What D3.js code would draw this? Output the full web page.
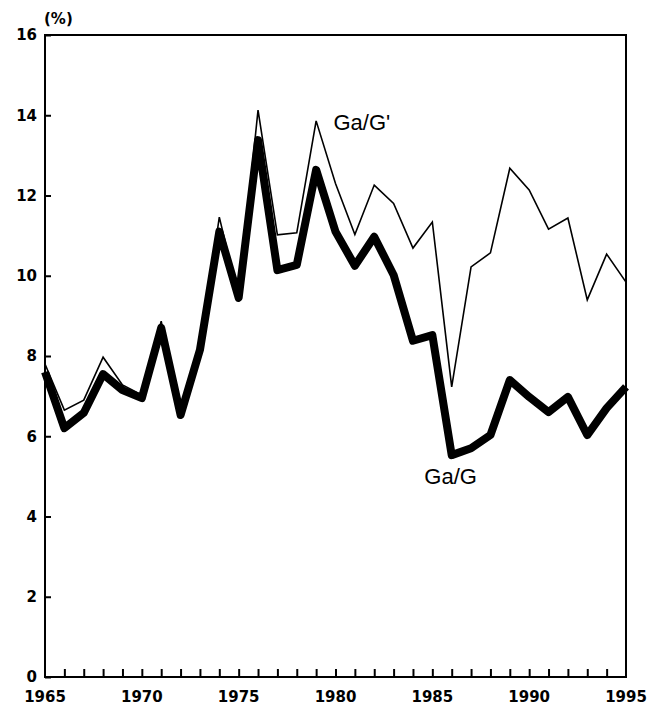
<!DOCTYPE html>
<html>
<head>
<meta charset="utf-8">
<script src="https://cdn.jsdelivr.net/npm/d3@7"></script>
<style>
  body { margin: 0; background: #fff; }
  text { font-family: "Liberation Sans", Arial, sans-serif; }
  .num { font-family: "DejaVu Sans", sans-serif; font-weight: bold; }
</style>
</head>
<body>
<div id="chart"></div>
<script>
// chart size and plot box
const width = 650;
const height = 708;
const margin = {left: 45, right: 24, top: 35, bottom: 31};

// data
const years = d3.range(1965, 1996);
const gaG = [7.6, 6.2, 6.58, 7.55, 7.15, 6.95, 8.7, 6.53, 8.15, 11.1,
             9.45, 13.38, 10.14, 10.27, 12.64, 11.1, 10.25, 10.97, 10.02, 8.38,
             8.52, 5.53, 5.7, 6.03, 7.4, 6.98, 6.6, 6.98, 6.03, 6.7, 7.23];
const gaGprime = [7.8, 6.65, 6.9, 7.97, 7.28, 7.03, 8.87, 6.5, 8.15, 11.46,
                  9.45, 14.13, 11.02, 11.07, 13.86, 12.3, 11.03, 12.26, 11.8, 10.69,
                  11.34, 7.23, 10.22, 10.57, 12.68, 12.14, 11.16, 11.44, 9.4, 10.54, 9.84];
const yTicks = [0, 2, 4, 6, 8, 10, 12, 14, 16];
const xLabels = [1965, 1970, 1975, 1980, 1985, 1990, 1995];

const svg = d3.select("#chart")
  .append("svg")
  .attr("width", width)
  .attr("height", height);

const x = d3.scaleLinear()
  .domain([1965, 1995])
  .range([margin.left, width - margin.right]);

const y = d3.scaleLinear()
  .domain([0, 16])
  .range([height - margin.bottom, margin.top]);

// frame round the plot
svg.append("rect")
  .attr("x", x(1965))
  .attr("y", y(16))
  .attr("width", x(1995) - x(1965))
  .attr("height", y(0) - y(16))
  .attr("fill", "none")
  .attr("stroke", "#000")
  .attr("stroke-width", 2);

// y axis: ticks point inward
const yAxis = svg.append("g")
  .attr("transform", `translate(${x(1965)},0)`)
  .call(d3.axisRight(y).tickValues(yTicks).tickSize(6).tickFormat(""));
yAxis.select(".domain").remove();
yAxis.selectAll("line").attr("stroke-width", 2);

svg.selectAll(".ylab")
  .data(yTicks)
  .enter()
  .append("text")
    .attr("class", "ylab num")
    .attr("x", x(1965) - 8)
    .attr("y", d => y(d))
    .attr("dy", "0.36em")
    .attr("text-anchor", "end")
    .attr("font-size", "15px")
    .text(d => d);

// x axis: yearly ticks pointing up
const xAxis = svg.append("g")
  .attr("transform", `translate(0,${y(0)})`)
  .call(d3.axisTop(x).tickValues(years.slice(1, -1)).tickSize(8).tickFormat(""));
xAxis.select(".domain").remove();
xAxis.selectAll("line").attr("stroke-width", 2);

svg.selectAll(".xlab")
  .data(xLabels)
  .enter()
  .append("text")
    .attr("class", "xlab num")
    .attr("x", d => x(d))
    .attr("y", y(0) + 25)
    .attr("text-anchor", "middle")
    .attr("font-size", "15px")
    .text(d => d);

svg.append("text")
  .attr("class", "num")
  .attr("x", x(1965) - 1)
  .attr("y", 24)
  .attr("font-size", "15px")
  .text("(%)");

// lines
const line = d3.line()
  .x((d, i) => x(years[i]))
  .y(d => y(d));

svg.append("path")
  .datum(gaGprime)
  .attr("d", line)
  .attr("fill", "none")
  .attr("stroke", "#000")
  .attr("stroke-width", 1.6)
  .attr("stroke-linejoin", "miter");

svg.append("path")
  .datum(gaG)
  .attr("d", line)
  .attr("fill", "none")
  .attr("stroke", "#000")
  .attr("stroke-width", 8)
  .attr("stroke-linejoin", "round");

// series labels
svg.append("text")
  .attr("x", x(1980) - 2)
  .attr("y", y(13.82))
  .attr("dy", "0.36em")
  .attr("font-size", "22px")
  .text("Ga/G'");

svg.append("text")
  .attr("x", x(1985) - 8)
  .attr("y", y(5.0))
  .attr("dy", "0.36em")
  .attr("font-size", "22px")
  .text("Ga/G");
</script>
</body>
</html>
